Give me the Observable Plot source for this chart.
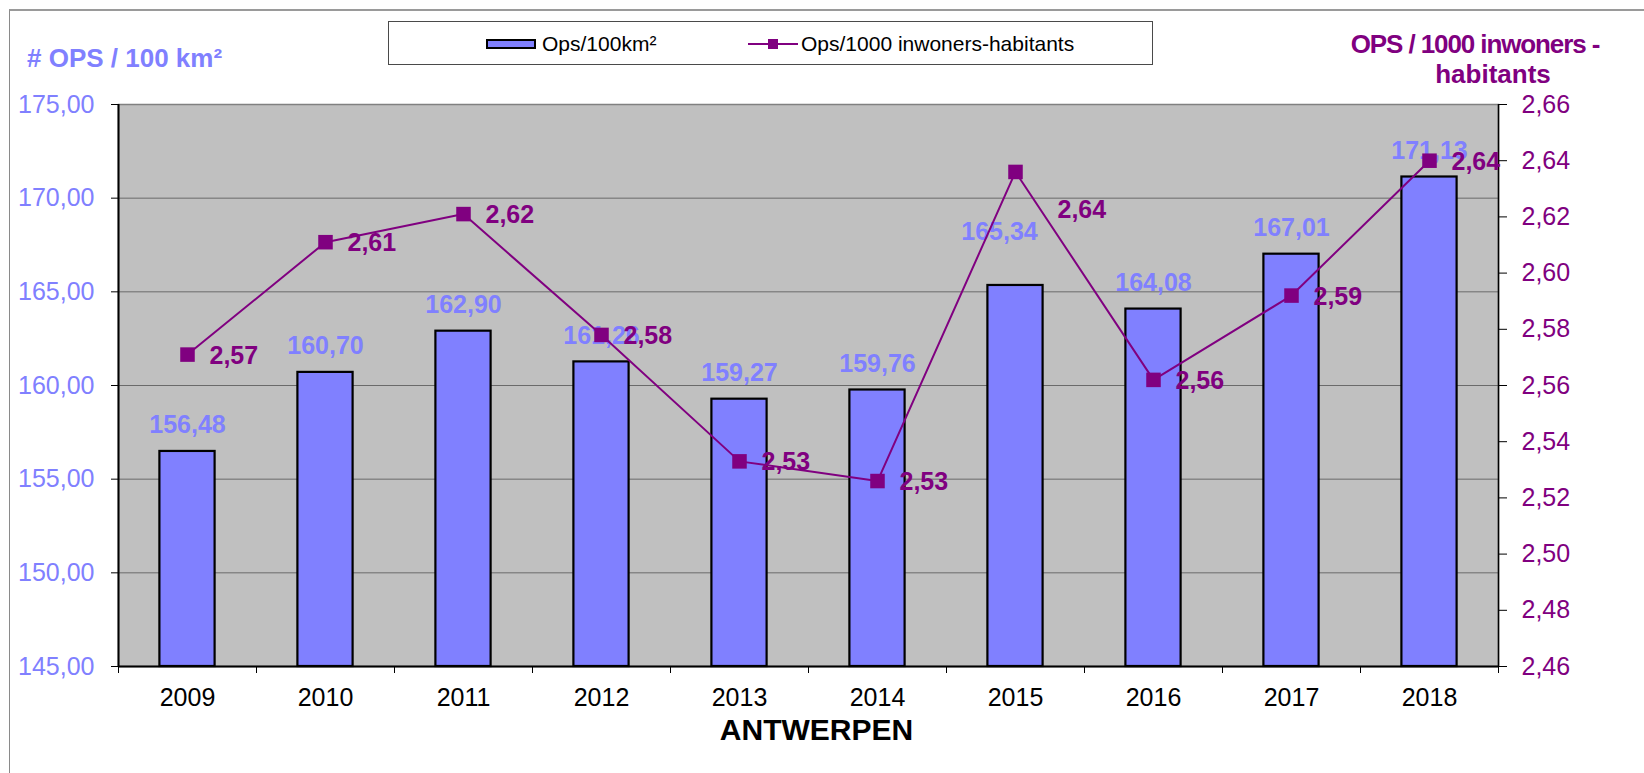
<!DOCTYPE html>
<html>
<head>
<meta charset="utf-8">
<script src="https://cdn.jsdelivr.net/npm/d3@7"></script>
<script src="https://cdn.jsdelivr.net/npm/@observablehq/plot@0.6"></script>
<style>
  html, body { margin: 0; padding: 0; background: #fff; }
  body { font-family: "Liberation Sans", Arial, sans-serif; }
  #wrap { position: relative; width: 1644px; height: 773px; overflow: hidden; }
  #wrap svg { position: absolute; left: 0; top: 0; }
  .pageframe { position: absolute; left: 9px; top: 9px; width: 1700px; height: 800px;
               border-top: 2px solid #9a9a9a; border-left: 1px solid #8a8a8a; }
  .ttl { position: absolute; font-weight: bold; white-space: nowrap; }
  #ltitle { left: 27px; top: 45px; font-size: 26px; line-height: 26px; color: #8080ff; }
  .rt { position: absolute; width: 400px; font-size: 26px; line-height: 30px;
        color: #800080; text-align: center; font-weight: bold; white-space: nowrap; }
  #rtitle1 { left: 1275px; top: 29px; letter-spacing: -1.1px; }
  #rtitle2 { left: 1293px; top: 59px; }
  #legend { position: absolute; left: 388px; top: 21px; width: 765px; height: 44px;
            border: 1px solid #4a4a4a; background: #fff; box-sizing: border-box; }
  .lg { position: absolute; font-size: 21px; line-height: 21px; color: #000; white-space: nowrap; }
  .sw-bar { position: absolute; width: 50px; height: 10px; background: #8080ff;
            border: 2px solid #000; box-sizing: border-box; }
  .sw-line { position: absolute; width: 50px; height: 2px; background: #800080; }
  .sw-mark { position: absolute; width: 10px; height: 10px; background: #800080; }
</style>
</head>
<body>
<div id="wrap">
  <div class="pageframe"></div>
  <div id="chart"></div>
  <div class="ttl" id="ltitle"># OPS / 100 km²</div>
  <div class="rt" id="rtitle1">OPS / 1000 inwoners -</div>
  <div class="rt" id="rtitle2">habitants</div>
  <div id="legend">
    <div class="sw-bar" style="left:97px; top:17px;"></div>
    <div class="lg" style="left:153px; top:11px;">Ops/100km²</div>
    <div class="sw-line" style="left:359px; top:21px;"></div>
    <div class="sw-mark" style="left:379px; top:17px;"></div>
    <div class="lg" style="left:412px; top:11px;">Ops/1000 inwoners-habitants</div>
  </div>
</div>
<script>
// ---- data ----
const years = [2009, 2010, 2011, 2012, 2013, 2014, 2015, 2016, 2017, 2018];
const opsPer100km2 = [156.48, 160.70, 162.90, 161.26, 159.27, 159.76, 165.34, 164.08, 167.01, 171.13];
const opsPer1000Inh = [2.571, 2.611, 2.621, 2.578, 2.533, 2.526, 2.636, 2.562, 2.592, 2.640];
const leftTicks = [145, 150, 155, 160, 165, 170, 175];
const rightTicks = [2.46, 2.48, 2.50, 2.52, 2.54, 2.56, 2.58, 2.60, 2.62, 2.64, 2.66];
const xTitle = "ANTWERPEN";

// ---- scales mapping (right axis onto left axis) ----
const L0 = leftTicks[0], L1 = leftTicks[leftTicks.length - 1];
const R0 = rightTicks[0], R1 = rightTicks[rightTicks.length - 1];
const toLeft = v => L0 + (v - R0) / (R1 - R0) * (L1 - L0);
const fromLeft = v => R0 + (v - L0) / (L1 - L0) * (R1 - R0);
const fmt = v => v.toFixed(2).replace(".", ",");

const data = years.map((year, i) => ({
  year, area: opsPer100km2[i], cap: opsPer1000Inh[i], capY: toLeft(opsPer1000Inh[i])
}));
const bounds = [years[0] - 0.5, ...years.map(y => y + 0.5)];
const halfBar = 0.2;
const FONT = "'Liberation Sans', Arial, sans-serif";
const moved = d => d.year === 2015;

const chart = Plot.plot({
  width: 1644, height: 773,
  marginLeft: 118, marginRight: 146, marginTop: 104, marginBottom: 107,
  style: { fontFamily: FONT, background: "transparent", overflow: "visible" },
  x: { domain: [bounds[0], bounds[bounds.length - 1]] },
  y: { domain: [L0, L1] },
  marks: [
    Plot.frame({ fill: "#c0c0c0", stroke: "#808080", strokeWidth: 1.5 }),
    Plot.ruleY(leftTicks.slice(1, -1), { stroke: "#6a6a6a", strokeWidth: 1 }),
    Plot.rectY(data, {
      x1: d => d.year - halfBar, x2: d => d.year + halfBar,
      y1: d => L0, y2: "area",
      fill: "#8080ff", stroke: "#000", strokeWidth: 2.2
    }),
    Plot.ruleX([bounds[0]], { stroke: "#000", strokeWidth: 2 }),
    Plot.ruleX([bounds[bounds.length - 1]], { stroke: "#000", strokeWidth: 1.5 }),
    Plot.ruleY([L0], { stroke: "#000", strokeWidth: 2 }),
    // left axis
    Plot.axisY({ ticks: leftTicks, tickFormat: fmt, tickSize: 7, tickPadding: 17,
      fontSize: 25, fill: "#8080ff", stroke: "#000", label: null }),
    // right axis
    Plot.axisY({ anchor: "right", ticks: rightTicks.map(toLeft), tickFormat: d => fmt(fromLeft(d)),
      tickSize: 8, tickPadding: 15, fontSize: 25, fill: "#800080", stroke: "#000", label: null }),
    // x axis: boundary ticks, then labels
    Plot.axisX({ ticks: bounds, tickFormat: () => "", tickSize: 7, stroke: "#000", label: null }),
    Plot.axisX({ ticks: years, tickFormat: d => String(d), tickSize: 0, tickPadding: 22,
      fontSize: 25, fill: "#000", label: null }),
    // bar labels
    Plot.text(data.filter(d => !moved(d)), { x: "year", y: "area", text: d => fmt(d.area),
      dy: -26, fill: "#8080ff", fontSize: 25, fontWeight: "bold" }),
    Plot.text(data.filter(moved), { x: "year", y: "area", text: d => fmt(d.area),
      dx: -16, dy: -53, fill: "#8080ff", fontSize: 25, fontWeight: "bold" }),
    // line series
    Plot.line(data, { x: "year", y: "capY", stroke: "#800080", strokeWidth: 2 }),
    Plot.dot(data, { x: "year", y: "capY", symbol: "square", r: 8.2, fill: "#800080", stroke: "none" }),
    Plot.text(data.filter(d => !moved(d)), { x: "year", y: "capY", text: d => fmt(d.cap),
      textAnchor: "start", dx: 22, dy: 1, fill: "#800080", fontSize: 25, fontWeight: "bold" }),
    Plot.text(data.filter(moved), { x: "year", y: "capY", text: d => fmt(d.cap),
      textAnchor: "start", dx: 42, dy: 38, fill: "#800080", fontSize: 25, fontWeight: "bold" }),
    // x title
    Plot.text([xTitle], { frameAnchor: "bottom", text: d => d, dx: 8, dy: 73,
      fill: "#000", fontSize: 30, fontWeight: "bold" })
  ]
});
document.getElementById("chart").appendChild(chart);
</script>
</body>
</html>
